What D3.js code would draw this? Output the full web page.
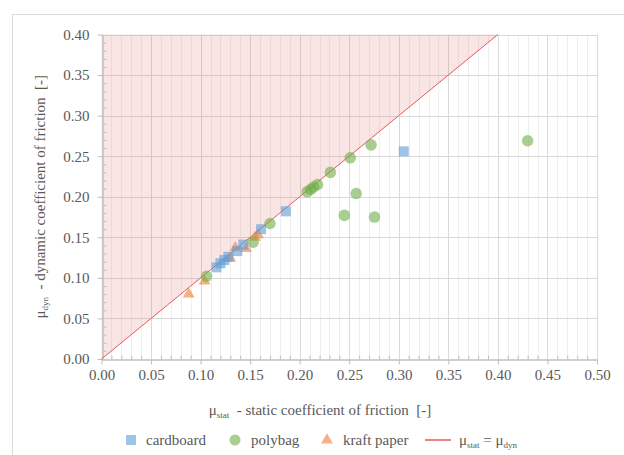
<!DOCTYPE html>
<html><head><meta charset="utf-8">
<script src="https://cdn.jsdelivr.net/npm/d3@7"></script>
</head>
<body style="margin:0">
<svg id="c" width="624" height="455"></svg>
<script>
// Data (x = static coefficient, y = dynamic coefficient)
const cardboardX = [0.116, 0.120, 0.124, 0.128, 0.137, 0.143, 0.161, 0.186, 0.305];
const cardboardY = [0.113, 0.118, 0.122, 0.126, 0.133, 0.141, 0.160, 0.182, 0.256];
const polybagX = [0.106, 0.153, 0.170, 0.2075, 0.211, 0.214, 0.218, 0.231, 0.245, 0.251, 0.257, 0.272, 0.2755, 0.430];
const polybagY = [0.102, 0.144, 0.167, 0.206, 0.209, 0.212, 0.215, 0.230, 0.177, 0.248, 0.204, 0.264, 0.175, 0.269];
const kraftX = [0.088, 0.104, 0.130, 0.135, 0.146, 0.155, 0.158];
const kraftY = [0.080, 0.096, 0.124, 0.137, 0.136, 0.150, 0.153];
const equalLineX = [0, 0.4];
const xTicks = [0,0.05,0.1,0.15,0.2,0.25,0.3,0.35,0.4,0.45,0.5];
const yTicks = [0,0.05,0.1,0.15,0.2,0.25,0.3,0.35,0.4];
const legendLabels = ["cardboard","polybag","kraft paper"];

const svg = d3.select("#c");
const x = d3.scaleLinear().domain([0,0.5]).range([101.5,597]);
const y = d3.scaleLinear().domain([0,0.4]).range([359,34.5]);

// outer chart frame
svg.append("rect").attr("x",12.5).attr("y",14.5).attr("width",700).attr("height",600)
  .attr("fill","none").attr("stroke","#d9d9d9").attr("stroke-width",1);

const minorX = d3.range(0,51).map(i=>i/100).filter(v=>Math.round(v*100)%5!==0);
const minorY = d3.range(0,41).map(i=>i/100).filter(v=>Math.round(v*100)%5!==0);

// grid
const g = svg.append("g");
g.selectAll(".mx").data(minorX).join("line")
  .attr("x1",d=>Math.round(x(d))+0.5).attr("x2",d=>Math.round(x(d))+0.5)
  .attr("y1",y(0)).attr("y2",y(0.4)).attr("stroke","#efefef");
g.selectAll(".Mx").data(xTicks.slice(1)).join("line")
  .attr("x1",d=>Math.round(x(d))+0.5).attr("x2",d=>Math.round(x(d))+0.5)
  .attr("y1",y(0)).attr("y2",y(0.4)).attr("stroke","#d9d9d9");
g.selectAll(".My").data(yTicks.slice(1)).join("line")
  .attr("y1",d=>Math.round(y(d))+0.5).attr("y2",d=>Math.round(y(d))+0.5)
  .attr("x1",x(0)).attr("x2",x(0.5)).attr("stroke","#d9d9d9");

// shaded region above mu_stat = mu_dyn
svg.append("path")
  .attr("d", d3.line()([[x(0),y(0)],[x(equalLineX[1]),y(equalLineX[1])],[x(0),y(0.4)]]) + "Z")
  .attr("fill","#e06666").attr("fill-opacity",0.17);

// axes
const ax = svg.append("g").attr("transform",`translate(0,${Math.round(y(0))+0.5})`)
  .call(d3.axisBottom(x).tickValues(xTicks).tickFormat(d3.format(".2f")).tickSize(5).tickSizeOuter(0).tickPadding(5));
const axm = svg.append("g").attr("transform",`translate(0,${Math.round(y(0))+0.5})`)
  .call(d3.axisTop(x).tickValues(minorX).tickFormat("").tickSize(4).tickSizeOuter(0));
const ay = svg.append("g").attr("transform",`translate(${Math.round(x(0))+0.5},0)`)
  .call(d3.axisLeft(y).tickValues(yTicks).tickFormat(d3.format(".2f")).tickSize(5).tickSizeOuter(0).tickPadding(8));
const aym = svg.append("g").attr("transform",`translate(${Math.round(x(0))+0.5},0)`)
  .call(d3.axisRight(y).tickValues(minorY).tickFormat("").tickSize(4).tickSizeOuter(0));
[ax,axm,ay,aym].forEach(a=>{
  a.attr("font-family",null).attr("font-size",null);
  a.select(".domain").attr("stroke","#bfbfbf");
  a.selectAll(".tick line").attr("stroke","#bfbfbf");
  a.selectAll("text").attr("fill","#595959").attr("font-size",15);
});

// diagonal line
svg.append("line").attr("x1",x(0)).attr("y1",y(0)).attr("x2",x(equalLineX[1])).attr("y2",y(equalLineX[1]))
  .attr("stroke","#e8595a").attr("stroke-width",1);

// markers
const cb = cardboardX.map((v,i)=>[v,cardboardY[i]]);
const pb = polybagX.map((v,i)=>[v,polybagY[i]]);
const kp = kraftX.map((v,i)=>[v,kraftY[i]]);
svg.append("g").selectAll("path").data(kp).join("path")
  .attr("d",d3.symbol(d3.symbolTriangle,60))
  .attr("transform",d=>`translate(${x(d[0])},${y(d[1])})`)
  .attr("fill","#ED7D31").attr("fill-opacity",0.6);
svg.append("g").selectAll("rect").data(cb).join("rect")
  .attr("x",d=>x(d[0])-5).attr("y",d=>y(d[1])-5).attr("width",10).attr("height",10)
  .attr("fill","#5B9BD5").attr("fill-opacity",0.6);
svg.append("g").selectAll("circle").data(pb).join("circle")
  .attr("cx",d=>x(d[0])).attr("cy",d=>y(d[1])).attr("r",5.8)
  .attr("fill","#70AD47").attr("fill-opacity",0.6);

// axis titles
const xt = svg.append("text").attr("x",320).attr("y",415).attr("text-anchor","middle")
  .attr("fill","#595959").attr("font-size",15);
xt.append("tspan").text("μ");
xt.append("tspan").text("stat").attr("font-size",9).attr("dy",3);
xt.append("tspan").text("  - static coefficient of friction  [-]").attr("dy",-3).style("white-space","pre");

const yt = svg.append("text").attr("transform",`translate(45,${(y(0)+y(0.4))/2}) rotate(-90)`)
  .attr("text-anchor","middle").attr("fill","#595959").attr("font-size",15);
yt.append("tspan").text("μ");
yt.append("tspan").text("dyn").attr("font-size",9).attr("dy",3);
yt.append("tspan").text("  - dynamic coefficient of friction  [-]").attr("dy",-3).style("white-space","pre");

// legend
const ly = 440;
const lg = svg.append("g").attr("font-size",15).attr("fill","#595959");
lg.append("rect").attr("x",126).attr("y",ly-5).attr("width",10).attr("height",10).attr("fill","#5B9BD5").attr("fill-opacity",0.6);
lg.append("text").attr("x",146).attr("y",ly+5).text(legendLabels[0]);
lg.append("circle").attr("cx",235).attr("cy",ly).attr("r",5.5).attr("fill","#70AD47").attr("fill-opacity",0.6);
lg.append("text").attr("x",251).attr("y",ly+5).text(legendLabels[1]);
lg.append("path").attr("d",d3.symbol(d3.symbolTriangle,60)).attr("transform",`translate(327,${ly})`).attr("fill","#ED7D31").attr("fill-opacity",0.6);
lg.append("text").attr("x",343).attr("y",ly+5).text(legendLabels[2]);
lg.append("line").attr("x1",425).attr("x2",451).attr("y1",ly).attr("y2",ly).attr("stroke","#e8595a").attr("stroke-width",1.5);
const lt = lg.append("text").attr("x",459).attr("y",ly+5);
lt.append("tspan").text("μ");
lt.append("tspan").text("stat").attr("font-size",9).attr("dy",3);
lt.append("tspan").text(" = μ").attr("dy",-3).style("white-space","pre");
lt.append("tspan").text("dyn").attr("font-size",9).attr("dy",3);

// apply serif font to every text element
svg.selectAll("text, tspan").attr("font-family","Liberation Serif").style("font-family","'Liberation Serif'");
</script></body></html>
